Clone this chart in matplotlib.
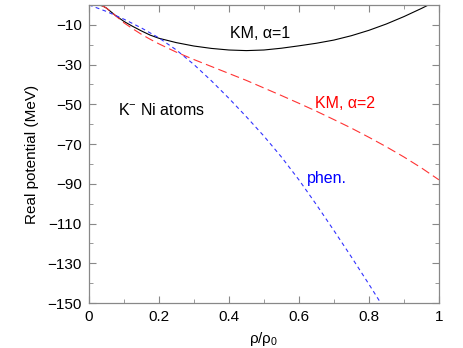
import matplotlib
matplotlib.use("Agg")
import matplotlib.pyplot as plt
import numpy as np

plt.rcParams['font.family'] = ['Liberation Sans', 'DejaVu Sans']
plt.rcParams['mathtext.fontset'] = 'custom'
plt.rcParams['mathtext.rm'] = 'Liberation Sans'
plt.rcParams['mathtext.it'] = 'Liberation Sans:italic'

rho_km1 = [0.0, 0.025, 0.04, 0.05, 0.075, 0.1, 0.125, 0.15, 0.175, 0.2, 0.25, 0.3, 0.35, 0.4,
           0.45, 0.5, 0.55, 0.6, 0.65, 0.7, 0.75, 0.8, 0.85, 0.9, 0.95, 1.0]
v_km1 = [0.5, 0.1, -0.6, -1.6, -5.2, -8.3, -10.8, -13.1, -15.2, -16.8, -19.0, -20.7, -21.9, -22.7,
         -23.0, -22.7, -21.8, -20.6, -19.3, -17.7, -15.5, -12.8, -9.6, -5.9, -1.8, 2.6]

rho_km2 = [0.0, 0.025, 0.04, 0.05, 0.075, 0.1, 0.125, 0.15, 0.175, 0.2, 0.25, 0.3, 0.35, 0.4,
           0.45, 0.5, 0.55, 0.6, 0.65, 0.7, 0.75, 0.8, 0.85, 0.9, 0.95, 1.0]
v_km2 = [0.5, 0.1, -0.6, -1.6, -5.3, -9.0, -12.0, -14.8, -17.3, -19.6, -23.8, -27.5, -31.0, -34.5,
         -38.0, -41.8, -45.6, -49.5, -53.5, -57.7, -62.0, -66.6, -71.4, -76.5, -82.0, -88.0]

rho_phen = [0.0, 0.05, 0.1, 0.15, 0.2, 0.25, 0.3, 0.35, 0.4, 0.45, 0.5, 0.55, 0.6, 0.65, 0.7,
            0.75, 0.8, 0.85]
v_phen = [0.0, -3.3, -7.2, -11.6, -16.6, -22.7, -30.0, -38.2, -47.0, -56.3, -66.0, -76.5, -88.0,
          -100.5, -113.5, -126.8, -140.5, -154.5]

yticks = [-10, -30, -50, -70, -90, -110, -130, -150]
xticks = [0, 0.2, 0.4, 0.6, 0.8, 1]
xticklabels = ['0', '0.2', '0.4', '0.6', '0.8', '1']

fig = plt.figure(figsize=(4.63, 3.48), dpi=100)
ax = fig.add_axes([0.192, 0.129, 0.756, 0.857])

ax.plot(rho_km1, v_km1, color='black', lw=0.8)
ax.plot(rho_km2, v_km2, color='#ff3333', lw=0.8, dashes=(8, 4))
ax.plot(rho_phen, v_phen, color='#3333ff', lw=0.8, dashes=(3.5, 3))

ax.set_xlim(0, 1)
ax.set_ylim(-150, 0)
ax.set_xticks(xticks)
ax.set_xticklabels(xticklabels)
ax.set_yticks(yticks)
ax.set_xticks(np.arange(0, 1.0001, 0.1), minor=True)
ax.set_yticks(np.arange(-140, 0, 20), minor=True)

for s in ax.spines.values():
    s.set_color('#888888')
    s.set_linewidth(0.9)
ax.tick_params(which='both', direction='in', top=True, right=True, color='#888888', labelsize=11, pad=5)
ax.tick_params(which='major', length=5)
ax.tick_params(which='minor', length=3)

ax.set_ylabel('Real potential (MeV)', fontsize=11, labelpad=6)
ax.set_xlabel(r'$\mathrm{\rho/\rho_0}$', fontsize=11, labelpad=4)

ax.text(0.489, -14.3, 'KM, α=1', color='black', fontsize=11.5, ha='center', va='center')
ax.text(0.731, -49.8, 'KM, α=2', color='red', fontsize=11.5, ha='center', va='center')
ax.text(0.208, -52.8, 'K$^{\\mathrm{-}}$ Ni atoms', color='black', fontsize=11.5, ha='center', va='center')
ax.text(0.679, -87.2, 'phen.', color='blue', fontsize=11.5, ha='center', va='center')

fig.savefig('out.png', dpi=100)
